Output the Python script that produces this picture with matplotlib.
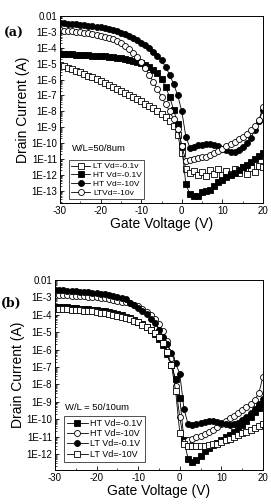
import numpy as np
import matplotlib
matplotlib.use("Agg")
import matplotlib.pyplot as plt
from matplotlib.ticker import FixedLocator, FixedFormatter, LogLocator, NullFormatter, MultipleLocator

plt.rcParams['font.family'] = ['Liberation Sans', 'DejaVu Sans']
plt.rcParams['axes.unicode_minus'] = False

# Gate voltage (V)
vg = list(range(-30, 21))

# ---- Panel (a): W/L = 50/8um, log10 of drain current (A)
a_lt_01 = [-5.06, -5.15, -5.25, -5.35, -5.45, -5.55, -5.65, -5.76, -5.87, -5.98,
           -6.10, -6.22, -6.34, -6.46, -6.58, -6.70, -6.83, -6.96, -7.10, -7.24,
           -7.38, -7.52, -7.67, -7.82, -7.98, -8.15, -8.35, -8.60, -8.95, -9.50,
           -10.6, -11.6, -11.9, -11.75, -12.0, -11.8, -12.05, -11.7, -11.95, -11.6,
           -12.0, -11.75, -11.95, -11.6, -11.85, -11.5, -11.95, -11.55, -11.8, -11.45, -11.5]
a_ht_01 = [-4.39, -4.40, -4.41, -4.42, -4.43, -4.44, -4.45, -4.47, -4.49, -4.51,
           -4.53, -4.55, -4.58, -4.61, -4.64, -4.67, -4.71, -4.76, -4.82, -4.89,
           -4.97, -5.07, -5.20, -5.37, -5.60, -5.95, -6.45, -7.10, -7.90, -8.80,
           -10.2, -12.6, -13.2, -13.35, -13.35, -13.1, -13.0, -12.95, -12.7, -12.45,
           -12.3, -12.15, -12.0, -11.85, -11.7, -11.5, -11.35, -11.2, -11.0, -10.8, -10.6]
a_ht_10 = [-2.45, -2.46, -2.48, -2.50, -2.52, -2.54, -2.57, -2.60, -2.63, -2.67,
           -2.71, -2.76, -2.82, -2.89, -2.97, -3.06, -3.16, -3.27, -3.39, -3.52,
           -3.67, -3.84, -4.03, -4.25, -4.50, -4.80, -5.20, -5.70, -6.30, -7.00,
           -8.00, -9.60, -10.3, -10.25, -10.15, -10.1, -10.05, -10.05, -10.1, -10.2,
           -10.35, -10.45, -10.55, -10.55, -10.45, -10.25, -10.0, -9.65, -9.2, -8.6, -7.9]
a_lt_10 = [-2.91, -2.93, -2.95, -2.97, -3.00, -3.03, -3.06, -3.10, -3.14, -3.19,
           -3.24, -3.30, -3.38, -3.47, -3.58, -3.72, -3.88, -4.07, -4.30, -4.58,
           -4.90, -5.28, -5.70, -6.15, -6.62, -7.08, -7.55, -8.00, -8.50, -9.10,
           -10.2, -11.1, -11.05, -11.0, -10.95, -10.9, -10.85, -10.75, -10.65, -10.5,
           -10.35, -10.2, -10.05, -9.9, -9.75, -9.6, -9.4, -9.2, -8.95, -8.55, -7.7]

# ---- Panel (b): W/L = 50/10um
b_ht_01 = [-3.55, -3.56, -3.57, -3.58, -3.60, -3.62, -3.64, -3.66, -3.68, -3.71,
           -3.74, -3.77, -3.81, -3.85, -3.90, -3.96, -4.02, -4.10, -4.18, -4.28,
           -4.40, -4.54, -4.70, -4.88, -5.10, -5.38, -5.75, -6.25, -6.90, -7.70,
           -8.80, -11.2, -12.3, -12.45, -12.35, -12.1, -11.85, -11.65, -11.5, -11.35,
           -11.2, -11.05, -10.9, -10.75, -10.55, -10.35, -10.1, -9.85, -9.6, -9.35, -9.1]
b_ht_10 = [-2.86, -2.87, -2.88, -2.89, -2.90, -2.91, -2.92, -2.94, -2.96, -2.98,
           -3.00, -3.03, -3.06, -3.10, -3.14, -3.19, -3.24, -3.28, -3.34, -3.41,
           -3.50, -3.65, -3.82, -4.02, -4.25, -4.55, -4.95, -5.50, -6.50, -8.10,
           -9.90, -11.3, -11.2, -11.15, -11.05, -10.95, -10.85, -10.72, -10.6, -10.45,
           -10.3, -10.12, -9.95, -9.8, -9.62, -9.45, -9.28, -9.1, -8.9, -8.5, -7.55]
b_lt_01 = [-2.57, -2.59, -2.60, -2.62, -2.64, -2.66, -2.68, -2.70, -2.72, -2.74,
           -2.76, -2.79, -2.82, -2.86, -2.90, -2.96, -3.03, -3.12, -3.30, -3.44,
           -3.60, -3.78, -3.98, -4.22, -4.50, -4.85, -5.25, -5.70, -6.20, -6.80,
           -7.40, -9.40, -10.3, -10.35, -10.25, -10.2, -10.15, -10.1, -10.1, -10.15,
           -10.2, -10.3, -10.35, -10.3, -10.2, -10.05, -9.85, -9.65, -9.4, -9.15, -8.85]
b_lt_10 = [-3.65, -3.66, -3.67, -3.68, -3.70, -3.72, -3.74, -3.76, -3.78, -3.81,
           -3.84, -3.87, -3.91, -3.95, -4.00, -4.05, -4.11, -4.17, -4.25, -4.34,
           -4.44, -4.56, -4.70, -4.86, -5.05, -5.30, -5.65, -6.15, -6.90, -8.40,
           -10.8, -11.45, -11.55, -11.55, -11.55, -11.55, -11.52, -11.5, -11.45, -11.4,
           -11.3, -11.22, -11.12, -11.02, -10.92, -10.82, -10.72, -10.62, -10.52, -10.42, -10.3]

ytick_vals_a = [1e-2, 1e-3, 1e-4, 1e-5, 1e-6, 1e-7, 1e-8, 1e-9, 1e-10, 1e-11, 1e-12, 1e-13]
ytick_lbls_a = ['0.01', '1E-3', '1E-4', '1E-5', '1E-6', '1E-7', '1E-8', '1E-9',
                '1E-10', '1E-11', '1E-12', '1E-13']
ytick_vals_b = ytick_vals_a[:-1]
ytick_lbls_b = ytick_lbls_a[:-1]
xticks = [-30, -20, -10, 0, 10, 20]

fig = plt.figure(figsize=(2.71, 5.04), dpi=100)
ax1 = fig.add_axes([0.2214, 0.5972, 0.7491, 0.3711])
ax2 = fig.add_axes([0.2030, 0.0675, 0.7675, 0.3770])

MS = 4.3
MEW = 0.6
LW = 0.6

def series(ax, y, marker, filled, label):
    ax.plot(vg, 10 ** np.array(y), color='black', lw=LW, marker=marker, ms=MS,
            mew=MEW, mec='black', mfc='black' if filled else 'white', label=label)

series(ax1, a_lt_01, 's', False, 'LT Vd=-0.1v')
series(ax1, a_ht_01, 's', True, 'HT Vd=-0.1V')
series(ax1, a_ht_10, 'o', True, 'HT Vd=-10V')
series(ax1, a_lt_10, 'o', False, 'LTVd=-10v')

series(ax2, b_ht_01, 's', True, 'HT Vd=-0.1V')
series(ax2, b_ht_10, 'o', False, 'HT Vd=-10V')
series(ax2, b_lt_01, 'o', True, 'LT Vd=-0.1V')
series(ax2, b_lt_10, 's', False, 'LT Vd=-10V')

def style(ax, ylim, tv, tl):
    ax.set_yscale('log')
    ax.set_xlim(-30, 20)
    ax.set_ylim(*ylim)
    ax.yaxis.set_major_locator(FixedLocator(tv))
    ax.yaxis.set_major_formatter(FixedFormatter(tl))
    ax.yaxis.set_minor_locator(LogLocator(base=10, subs=np.arange(2, 10) * 1.0, numticks=40))
    ax.yaxis.set_minor_formatter(NullFormatter())
    ax.set_xticks(xticks)
    ax.xaxis.set_minor_locator(MultipleLocator(5))
    ax.tick_params(which='major', direction='in', length=3, width=0.6, labelsize=7, pad=2)
    ax.tick_params(which='minor', direction='in', length=1.5, width=0.5)
    ax.tick_params(top=False, right=False)
    for s in ax.spines.values():
        s.set_linewidth(0.7)
    ax.set_xlabel('Gate Voltage (V)', fontsize=10, labelpad=1)
    ax.set_ylabel('Drain Current (A)', fontsize=10, labelpad=1)

style(ax1, (1.7e-14, 1e-2), ytick_vals_a, ytick_lbls_a)
style(ax2, (1.2e-13, 1e-2), ytick_vals_b, ytick_lbls_b)

leg1 = ax1.legend(loc='lower left', bbox_to_anchor=(0.035, 0.01), fontsize=6,
                  frameon=True, fancybox=False, edgecolor='black', handlelength=2.3,
                  handletextpad=0.3, borderpad=0.3, labelspacing=0.12, borderaxespad=0.2)
leg1.get_frame().set_linewidth(0.6)
ax1.text(0.06, 0.29, 'W/L=50/8um', transform=ax1.transAxes, fontsize=6.8, va='center', ha='left')

leg2 = ax2.legend(loc='lower left', bbox_to_anchor=(0.035, 0.035), fontsize=6.5,
                  frameon=True, fancybox=False, edgecolor='black', handlelength=2.3,
                  handletextpad=0.3, borderpad=0.3, labelspacing=0.15, borderaxespad=0.2)
leg2.get_frame().set_linewidth(0.6)
ax2.text(0.05, 0.33, 'W/L = 50/10um', transform=ax2.transAxes, fontsize=6.8, va='center', ha='left')

fig.text(0.015, 1 - 33 / 504, '(a)', fontsize=9, fontweight='bold', family='DejaVu Serif', va='center')
fig.text(0.005, 1 - 303 / 504, '(b)', fontsize=9, fontweight='bold', family='DejaVu Serif', va='center')

fig.savefig('out.png', dpi=100)
